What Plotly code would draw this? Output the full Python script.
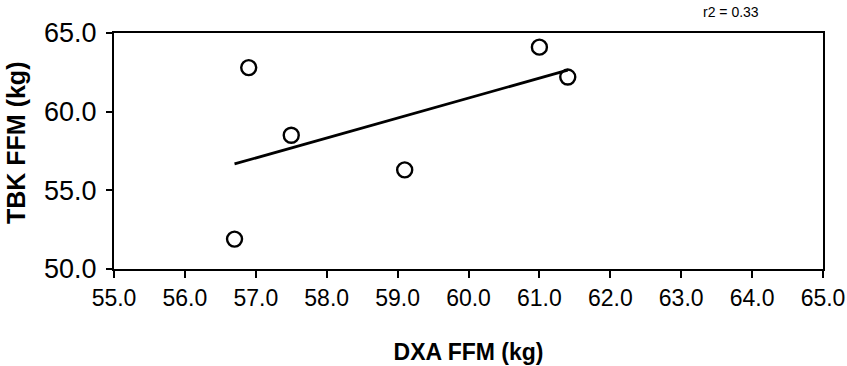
import numpy as np
import plotly.graph_objects as go

dxa_ffm = [56.7, 56.9, 57.5, 59.1, 61.0, 61.4]
tbk_ffm = [51.9, 62.8, 58.5, 56.3, 64.1, 62.2]
x_ticks = [55.0, 56.0, 57.0, 58.0, 59.0, 60.0, 61.0, 62.0, 63.0, 64.0, 65.0]
y_ticks = [50.0, 55.0, 60.0, 65.0]
r2_label = "r2 = 0.33"

slope, intercept = np.polyfit(dxa_ffm, tbk_ffm, 1)
fit_x = [min(dxa_ffm), max(dxa_ffm)]
fit_y = [slope * v + intercept for v in fit_x]

fig = go.Figure()
fig.add_trace(go.Scatter(x=fit_x, y=fit_y, mode="lines",
                         line=dict(color="black", width=2.8), showlegend=False))
fig.add_trace(go.Scatter(x=dxa_ffm, y=tbk_ffm, mode="markers",
                         marker=dict(symbol="circle-open", size=15, color="black",
                                     line=dict(width=2.4, color="black")),
                         showlegend=False))

font_family = "Liberation Sans, Arial, sans-serif"
fig.update_layout(
    width=847, height=366,
    margin=dict(l=114, r=24, t=33, b=97),
    paper_bgcolor="white", plot_bgcolor="white",
    font=dict(family=font_family, color="black"),
    xaxis=dict(range=[55, 65], tickvals=x_ticks,
               ticktext=[f"{v:.1f}" for v in x_ticks], automargin=False,
               showgrid=False, zeroline=False, showline=True, linecolor="black",
               linewidth=2, mirror=True, ticks="outside", ticklen=7, tickwidth=1.5,
               tickcolor="black", tickfont=dict(size=23),
               title=dict(text="<b>DXA FFM (kg)</b>", font=dict(size=23), standoff=34)),
    yaxis=dict(range=[50, 65], tickvals=y_ticks,
               ticktext=[f"{v:.1f}" for v in y_ticks], automargin=False,
               showgrid=False, zeroline=False, showline=True, linecolor="black",
               linewidth=2, mirror=True, ticks="outside", ticklen=6, tickwidth=1.5,
               tickcolor="black", tickfont=dict(size=27), ticklabelstandoff=4),
    annotations=[
        dict(text=r2_label, xref="paper", yref="paper", x=0.870, y=1.0,
             xanchor="center", yanchor="bottom", yshift=11, showarrow=False,
             font=dict(size=14, color="black")),
        dict(text="<b>TBK FFM (kg)</b>", xref="paper", yref="paper", x=0, y=0.5,
             xanchor="center", yanchor="middle", xshift=-98, yshift=8,
             textangle=-90, showarrow=False, font=dict(size=25, color="black")),
    ],
)

fig.write_html("out.html")
